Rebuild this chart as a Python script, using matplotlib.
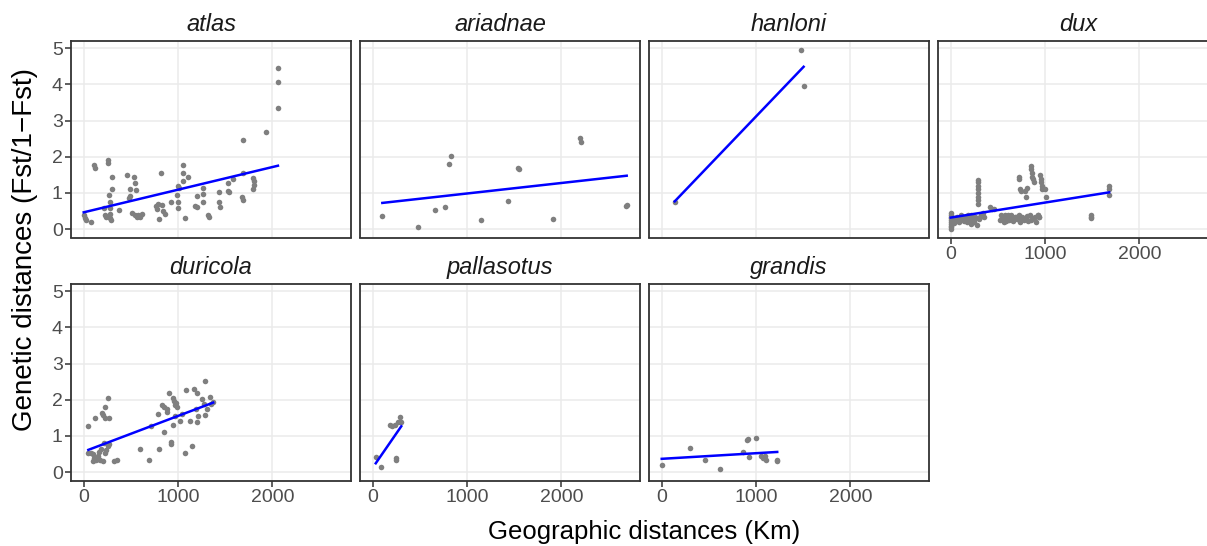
import numpy as np
import matplotlib
matplotlib.use("Agg")
import matplotlib.pyplot as plt

plt.rcParams['font.family'] = ['Liberation Sans', 'DejaVu Sans']

# geographic distance (km) vs genetic distance Fst/(1-Fst), one pair of arrays per species
atlas_x = [0, 10, 20, 77, 113, 120, 211, 225, 240, 254, 261, 270, 275, 278, 280, 282, 285, 296, 296,
           370, 454, 475, 486, 493, 514, 532, 540, 549, 556, 560, 575, 600, 623,
           770, 780, 790, 803, 817, 830, 845, 860, 922, 993, 995, 1000, 1005, 1010, 1049, 1056, 1056, 1077, 1109,
           1176, 1197, 1197, 1262, 1262, 1262, 1320, 1331, 1430, 1437, 1447, 1532, 1532, 1540, 1581,
           1680, 1685, 1694, 1694, 1800, 1805, 1810, 1800, 1937, 2060, 2060, 2060]
atlas_y = [0.40, 0.30, 0.25, 0.21, 1.78, 1.70, 0.58, 0.40, 0.35, 1.82, 1.92, 0.95, 0.74, 0.58, 0.42, 0.32, 0.26, 1.43, 1.11,
           0.54, 1.50, 0.87, 1.11, 0.93, 0.45, 1.45, 0.38, 1.27, 1.07, 0.35, 0.40, 0.33, 0.42,
           0.64, 0.55, 0.70, 0.29, 1.55, 0.66, 0.50, 0.41, 0.76, 0.95, 0.76, 1.20, 0.58, 1.15, 1.78, 1.55, 1.34, 0.30, 1.43,
           0.65, 0.93, 0.60, 1.15, 0.97, 0.76, 0.40, 0.33, 0.76, 1.02, 0.61, 1.27, 1.06, 1.04, 1.39,
           0.88, 0.81, 2.46, 1.55, 1.41, 1.32, 1.22, 1.11, 2.68, 4.46, 4.06, 3.34]

ariadnae_x = [102, 479, 665, 764, 806, 831, 1144, 1437, 1546, 1549, 1915, 2197, 2208, 2687, 2694]
ariadnae_y = [0.37, 0.06, 0.53, 0.62, 1.81, 2.03, 0.24, 0.79, 1.70, 1.67, 0.29, 2.51, 2.40, 0.64, 0.67]

hanloni_x = [138, 1473, 1505]
hanloni_y = [0.755, 4.95, 3.95]

dux_x = [0, 0, 0, 0, 0, 0, 0, 0, 0, 0,
         30, 50, 70, 90, 110, 120, 140, 160, 180, 200, 210, 230, 250, 260, 280, 300, 320, 340, 350,
         40, 60, 100, 130, 150, 170, 190, 220, 240, 270, 310, 330,
         290, 290, 290, 290, 290, 290, 290, 290,
         420, 440, 460,
         520, 540, 560, 580, 600, 620, 640, 660, 680, 700, 720, 740, 760, 780, 800, 820, 840, 870, 900, 930,
         530, 550, 570, 590, 610, 650, 690, 730, 770, 810, 850, 890, 940,
         720, 720, 730, 745, 790, 800, 810, 850, 855, 860, 865, 870, 880,
         950, 955, 960, 965, 970, 1000, 1010, 930, 940,
         1490, 1490, 1490, 1680, 1680, 1680]
dux_y = [0.00, 0.05, 0.10, 0.15, 0.20, 0.25, 0.30, 0.35, 0.40, 0.45,
         0.25, 0.30, 0.35, 0.20, 0.40, 0.28, 0.22, 0.33, 0.38, 0.25, 0.15, 0.30, 0.20, 0.35, 0.12, 0.28, 0.40, 0.45, 0.35,
         0.18, 0.22, 0.30, 0.35, 0.25, 0.20, 0.30, 0.38, 0.22, 0.30, 0.33, 0.42,
         0.70, 0.80, 0.90, 1.00, 1.10, 1.20, 1.30, 1.35,
         0.60, 0.55, 0.55,
         0.25, 0.35, 0.20, 0.40, 0.30, 0.25, 0.38, 0.22, 0.33, 0.28, 0.40, 0.20, 0.35, 0.25, 0.30, 0.22, 0.38, 0.30, 0.20, 0.40,
         0.40, 0.30, 0.33, 0.22, 0.38, 0.28, 0.35, 0.25, 0.30, 0.36, 0.25, 0.33, 0.35,
         1.45, 1.40, 1.10, 1.05, 1.05, 0.90, 1.15, 1.75, 1.65, 1.55, 1.45, 1.38, 1.30,
         1.50, 1.40, 1.30, 1.20, 1.10, 1.10, 0.90, 0.40, 0.35,
         0.40, 0.35, 0.30, 1.20, 1.10, 0.95]

duricola_x = [49, 116, 225, 254, 190, 201, 222, 264,
              50, 76, 97, 113, 95, 130, 148, 165, 183, 211, 229, 254, 271, 155, 176, 201, 236,
              324, 352, 599, 694, 718, 796, 792, 835, 852, 880, 887, 901, 849, 926, 930,
              944, 958, 975, 972, 951, 993, 968, 1018, 1081, 1074, 1046, 1130, 1144,
              1169, 1197, 1194, 1211, 1197, 1275, 1257, 1282, 1285, 1303, 1335, 1352, 1373]
duricola_y = [1.27, 1.49, 1.81, 2.04, 1.64, 1.58, 1.49, 1.49,
              0.54, 0.54, 0.49, 0.40, 0.31, 0.35, 0.46, 0.56, 0.63, 0.81, 0.54, 0.72, 0.77, 0.40, 0.35, 0.31, 0.61,
              0.31, 0.35, 0.63, 0.35, 1.28, 0.63, 1.61, 1.85, 1.81, 1.74, 1.66, 2.19, 1.12, 0.84, 0.77,
              2.06, 1.98, 1.92, 1.85, 1.31, 1.80, 1.56, 1.42, 2.28, 0.54, 1.61, 1.42, 0.71,
              2.31, 2.19, 1.74, 1.56, 1.38, 1.88, 2.02, 2.53, 1.59, 1.74, 2.09, 1.88, 1.94]

pallasotus_x = [32, 88, 180, 204, 239, 264, 285, 303, 246, 252]
pallasotus_y = [0.42, 0.15, 1.30, 1.27, 1.30, 1.39, 1.53, 1.40, 0.35, 0.40]

grandis_x = [0, 303, 461, 623, 859, 908, 919, 996, 923, 1049, 1074, 1095, 1102, 1225, 1225]
grandis_y = [0.19, 0.67, 0.34, 0.08, 0.55, 0.89, 0.93, 0.94, 0.41, 0.45, 0.40, 0.45, 0.35, 0.35, 0.30]

species = ["atlas", "ariadnae", "hanloni", "dux", "duricola", "pallasotus", "grandis"]
xs = [atlas_x, ariadnae_x, hanloni_x, dux_x, duricola_x, pallasotus_x, grandis_x]
ys = [atlas_y, ariadnae_y, hanloni_y, dux_y, duricola_y, pallasotus_y, grandis_y]

# linear fits (intercept, slope per km)
fit_intercept = [0.466, 0.696, 0.394, 0.32, 0.568, 0.125, 0.369]
fit_slope = [0.000625, 0.00029, 0.00272, 0.000415, 0.000986, 0.003774, 0.000155]

W, H = 1207, 546
fig = plt.figure(figsize=(W / 100, H / 100), dpi=100)

lefts = [71, 360, 649, 938]
pw, ph = 280, 196.5
tops = [41, 284]

for i, sp in enumerate(species):
    row, col = divmod(i, 4)
    l, t = lefts[col], tops[row]
    ax = fig.add_axes([l / W, 1 - (t + ph) / H, pw / W, ph / H])
    ax.set_xlim(-135, 2835)
    ax.set_ylim(-0.23, 5.2)
    ax.set_xticks([0, 1000, 2000])
    ax.set_yticks([0, 1, 2, 3, 4, 5])
    ax.grid(True, color='#EBEBEB', linewidth=1.1)
    ax.set_axisbelow(True)
    for s in ax.spines.values():
        s.set_color('#333333')
        s.set_linewidth(1.3)
    ax.tick_params(length=4, width=1.1, color='#333333', labelcolor='#4D4D4D', labelsize=14, pad=2)

    ax.scatter(xs[i], ys[i], s=16, color='#7F7F7F', linewidths=0, zorder=2)
    x0, x1 = min(xs[i]), max(xs[i])
    line_x = np.array([x0, x1])
    ax.plot(line_x, fit_intercept[i] + fit_slope[i] * line_x, color='blue', linewidth=1.8, zorder=3)

    ax.set_title(sp, style='italic', fontsize=17, color='#1A1A1A', pad=7)

    if col != 0:
        ax.tick_params(labelleft=False, left=False)
    if row == 0 and col != 3:
        ax.tick_params(labelbottom=False, bottom=False)

fig.text(644 / W, 1 - 532 / H, "Geographic distances (Km)", ha='center', va='center', fontsize=18.5)
fig.text(25 / W, 1 - 250 / H, "Genetic distances (Fst/1\u2212Fst)", ha='center', va='center',
         rotation=90, fontsize=20)

fig.savefig("out.png", dpi=100, facecolor='white')
